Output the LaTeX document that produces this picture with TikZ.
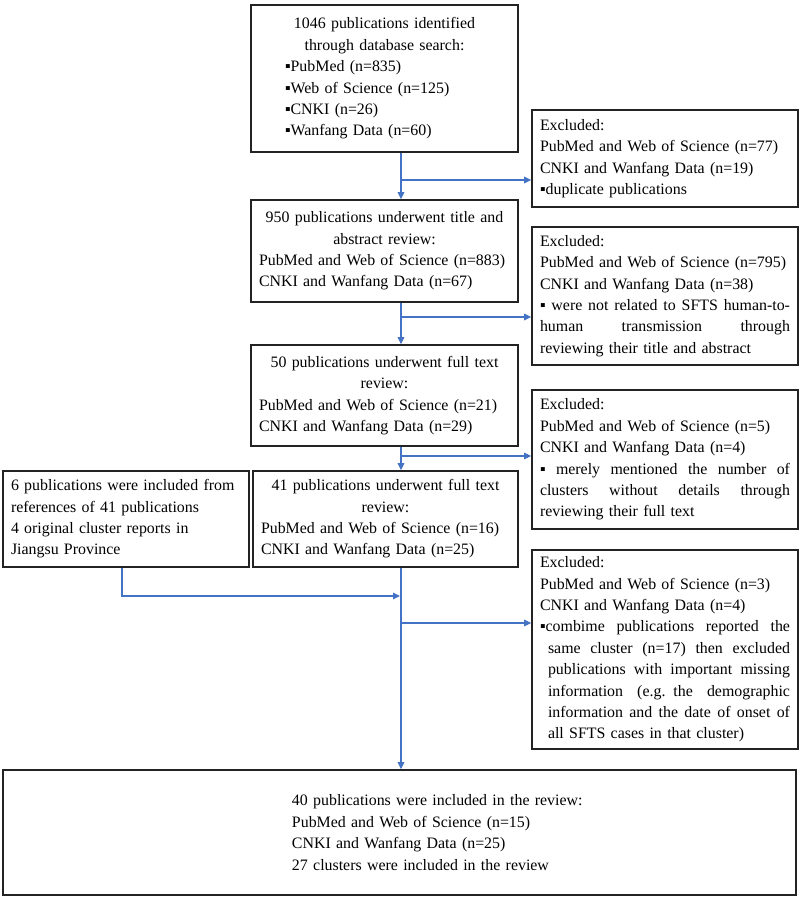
\documentclass[tikz,border=0pt]{standalone}
\usepackage{fontspec}
\setmainfont{Liberation Serif}
\usetikzlibrary{arrows.meta,calc}
\definecolor{arrowblue}{RGB}{68,114,196}
\definecolor{boxline}{RGB}{35,35,35}
\newcommand{\ctr}[1]{\hbox to \hsize{\hss#1\hss}}
\newcommand{\jst}[1]{\hbox to \hsize{\spaceskip=0.25em plus 1fil\relax #1}}
\newcommand{\ijst}[1]{\hbox to \hsize{\hspace*{8pt}\spaceskip=0.25em plus 1fil\relax #1}}
\begin{document}
\begin{tikzpicture}[x=1pt,y=-1pt,
  box/.style={draw=boxline, line width=1.6pt, inner ysep=0pt, inner xsep=8pt,
    align=left, font=\fontsize{15.9}{21.4}\selectfont, anchor=center},
  arr/.style={draw=arrowblue, line width=1.1pt, -{Triangle[length=7pt,width=6.5pt]}}]
\useasboundingbox[fill=white] (0,0) rectangle (800,897);

% main column
\node[box, minimum width=267pt, minimum height=147pt, text width=251pt] (b1) at (384.5,78.5)
 {\ctr{1046 publications identified}
  \ctr{through database search:}
  \hspace*{26pt}▪PubMed (n=835)\\
  \hspace*{26pt}▪Web of Science (n=125)\\
  \hspace*{26pt}▪CNKI (n=26)\\
  \hspace*{26pt}▪Wanfang Data (n=60)};

\node[box, minimum width=267pt, minimum height=102pt, text width=251pt] (b2) at (384.5,251)
 {\ctr{950 publications underwent title and}
  \ctr{abstract review:}
  PubMed and Web of Science (n=883)\\
  CNKI and Wanfang Data (n=67)};

\node[box, minimum width=267pt, minimum height=101pt, text width=251pt] (b3) at (384.5,395.5)
 {\ctr{50 publications underwent full text}
  \ctr{review:}
  PubMed and Web of Science (n=21)\\
  CNKI and Wanfang Data (n=29)};

\node[box, minimum width=265pt, minimum height=96pt, text width=249pt] (b4) at (385.5,519)
 {\ctr{41 publications underwent full text}
  \ctr{review:}
  PubMed and Web of Science (n=16)\\
  CNKI and Wanfang Data (n=25)};

\node[box, minimum width=246pt, minimum height=96pt, text width=230pt] (lb) at (126,519)
 {6 publications were included from\\
  references of 41 publications\\
  4 original cluster reports in\\
  Jiangsu Province};

% excluded boxes
\node[box, minimum width=266pt, minimum height=97pt, text width=250pt] (e1) at (665,158.5)
 {Excluded:\\
  PubMed and Web of Science (n=77)\\
  CNKI and Wanfang Data (n=19)\\
  ▪duplicate publications};

\node[box, minimum width=266pt, minimum height=138pt, text width=250pt] (e2) at (665,296)
 {Excluded:\\
  PubMed and Web of Science (n=795)\\
  CNKI and Wanfang Data (n=38)
  \jst{▪ were not related to SFTS human-to-}
  \jst{human transmission through}
  reviewing their title and abstract};

\node[box, minimum width=266pt, minimum height=139pt, text width=250pt] (e3) at (665,459.5)
 {Excluded:\\
  PubMed and Web of Science (n=5)\\
  CNKI and Wanfang Data (n=4)
  \jst{▪ merely mentioned the number of}
  \jst{clusters without details through}
  reviewing their full text};

\node[box, minimum width=266pt, minimum height=199pt, text width=250pt] (e4) at (665,649.5)
 {Excluded:\\
  PubMed and Web of Science (n=3)\\
  CNKI and Wanfang Data (n=4)
  \jst{▪combime publications reported the}
  \ijst{same cluster (n=17) then excluded}
  \ijst{publications with important missing}
  \ijst{information (e.g. the demographic}
  \ijst{information and the date of onset of}
  \hspace*{8pt}all SFTS cases in that cluster)};

\node[box, minimum width=793pt, minimum height=125pt, text width=777pt] (fin) at (399.5,832.5)
 {\hspace*{281pt}40 publications were included in the review:\\
  \hspace*{281pt}PubMed and Web of Science (n=15)\\
  \hspace*{281pt}CNKI and Wanfang Data (n=25)\\
  \hspace*{281pt}27 clusters were included in the review};

% connectors
\coordinate (spine) at (401,0);
\coordinate (lbx) at (122,0);
\coordinate (j1) at (401,180);
\coordinate (j2) at (401,317);
\coordinate (j3) at (401,456);
\coordinate (j4) at (401,623);
\coordinate (j5) at (400,596);

\draw[arr] (b1.south -| spine) -- (b2.north -| spine);
\draw[arr] (j1) -- (j1 -| e1.west);
\draw[arr] (b2.south -| spine) -- (b3.north -| spine);
\draw[arr] (j2) -- (j2 -| e2.west);
\draw[arr] (b3.south -| spine) -- (b4.north -| spine);
\draw[arr] (j3) -- (j3 -| e3.west);
\draw[arr] (b4.south -| spine) -- (fin.north -| spine);
\draw[arr] (j4) -- (j4 -| e4.west);
\draw[arr] (lb.south -| lbx) |- (j5);
\end{tikzpicture}
\end{document}
